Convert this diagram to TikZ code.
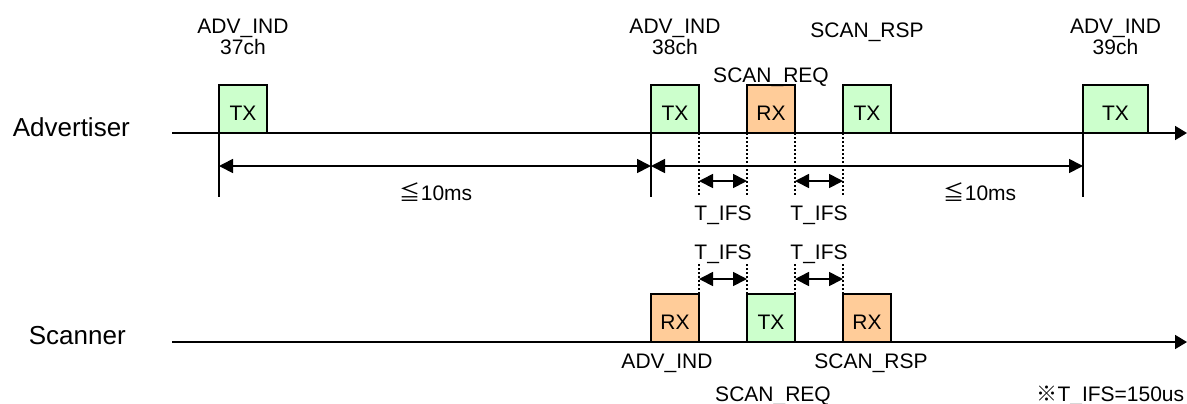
\documentclass[tikz,border=0pt]{standalone}
\usepackage{fontspec}
\setmainfont{Liberation Sans}
\newfontfamily\jpfont{Noto Sans CJK JP}
\usetikzlibrary{arrows.meta,calc,positioning}
\definecolor{txgreen}{HTML}{CCFFCC}
\definecolor{rxorange}{HTML}{FFCC99}
\tikzset{span/.style={{Triangle[length=7pt,width=7pt]}-{Triangle[length=7pt,width=7pt]}},
  lane/.style={-{Triangle[length=6pt,width=7pt]}},
  guide/.style={dash pattern=on 1pt off 1pt},
  pkt/.style={draw, minimum width=24pt, minimum height=24pt, inner sep=0pt, outer sep=0pt,
    text height=11pt, text depth=0pt, anchor=south west},
  tx/.style={pkt, fill=txgreen},
  rx/.style={pkt, fill=rxorange},
  lbl/.style={inner sep=0pt, align=center},
  role/.style={inner sep=0pt, anchor=base west, font=\fontsize{13}{13}\selectfont}}

\begin{document}
\begin{tikzpicture}[x=0.5pt, y=-0.5pt, line width=0.85pt, node distance=24pt,
  font=\fontsize{10.5}{10.5}\selectfont]
  \useasboundingbox (0,0) rectangle (1187,403);
  % time lines
  \coordinate (adv0) at (172,133);
  \coordinate (adv1) at (1187,133);
  \coordinate (scn0) at (172,342);
  \coordinate (scn1) at (1187,342);
  \node[role] (adv) at (12,136) {Advertiser};
  \node[role] (scn) at (28,344) {Scanner};
  \draw[lane] (adv0) -- (adv1);
  \draw[lane] (scn0) -- (scn1);
  % advertiser packets
  \node[tx] (a1) at (219,133) {TX};
  \node[tx] (a2) at (651,133) {TX};
  \node[rx, right=of a2] (a3) {RX};
  \node[tx, right=of a3] (a4) {TX};
  \node[tx, minimum width=32.5pt] (a5) at (1083,133) {TX};
  \node[lbl, anchor=south, above=14.5pt of a1] (c37) {ADV\_IND\\37ch};
  \node[lbl, anchor=south, above=14.5pt of a2] (c38) {ADV\_IND\\38ch};
  \node[lbl, anchor=south, above=14.5pt of a5] (c39) {ADV\_IND\\39ch};
  \node[lbl, anchor=base] (req1) at (771,82) {SCAN\_REQ};
  \node[lbl, anchor=base] (rsp1) at (867,37) {SCAN\_RSP};
  % scanner packets
  \node[rx] (s1) at (651,342) {RX};
  \node[tx, right=of s1] (s2) {TX};
  \node[rx, right=of s2] (s3) {RX};
  \node[lbl, anchor=base] (adv2) at (667,368) {ADV\_IND};
  \node[lbl, anchor=base] (req2) at (773,401) {SCAN\_REQ};
  \node[lbl, anchor=base] (rsp2) at (871,368) {SCAN\_RSP};
  % intervals
  \foreach \n in {a1,a2,a5}
    \draw (\n.south west) -- ++(0,64);
  \draw[span] ($(a1.south west)+(0,33)$) -- ($(a2.south west)+(0,33)$);
  \draw[span] ($(a2.south west)+(0,33)$) -- ($(a5.south west)+(0,33)$);
  \node[lbl, anchor=base] (lim1) at (436,200) {{\jpfont ≦}10ms};
  \node[lbl, anchor=base] (lim2) at (980,200) {{\jpfont ≦}10ms};
  \foreach \n/\m/\i in {a2/a3/1,a3/a4/2}{
    \draw[guide] (\n.south east) -- ++(0,62);
    \draw[guide] (\m.south west) -- ++(0,62);
    \draw[span] ($(\n.south east)+(0,48)$) -- ($(\m.south west)+(0,48)$);
    \node[lbl, anchor=base] (ifs\i) at ($(\n.south east)!0.5!(\m.south west)+(0,87)$) {T\_IFS};}
  \foreach \n/\m/\i in {s1/s2/3,s2/s3/4}{
    \draw[guide] (\n.north east) -- ++(0,-32);
    \draw[guide] (\m.north west) -- ++(0,-32);
    \draw[span] ($(\n.north east)+(0,-15)$) -- ($(\m.north west)+(0,-15)$);
    \node[lbl, anchor=base] (ifs\i) at ($(\n.north east)!0.5!(\m.north west)+(0,-35)$) {T\_IFS};}
  \node[lbl, anchor=base east] (note) at (1185,401) {{\jpfont ※}T\_IFS=150us};
\end{tikzpicture}
\end{document}
